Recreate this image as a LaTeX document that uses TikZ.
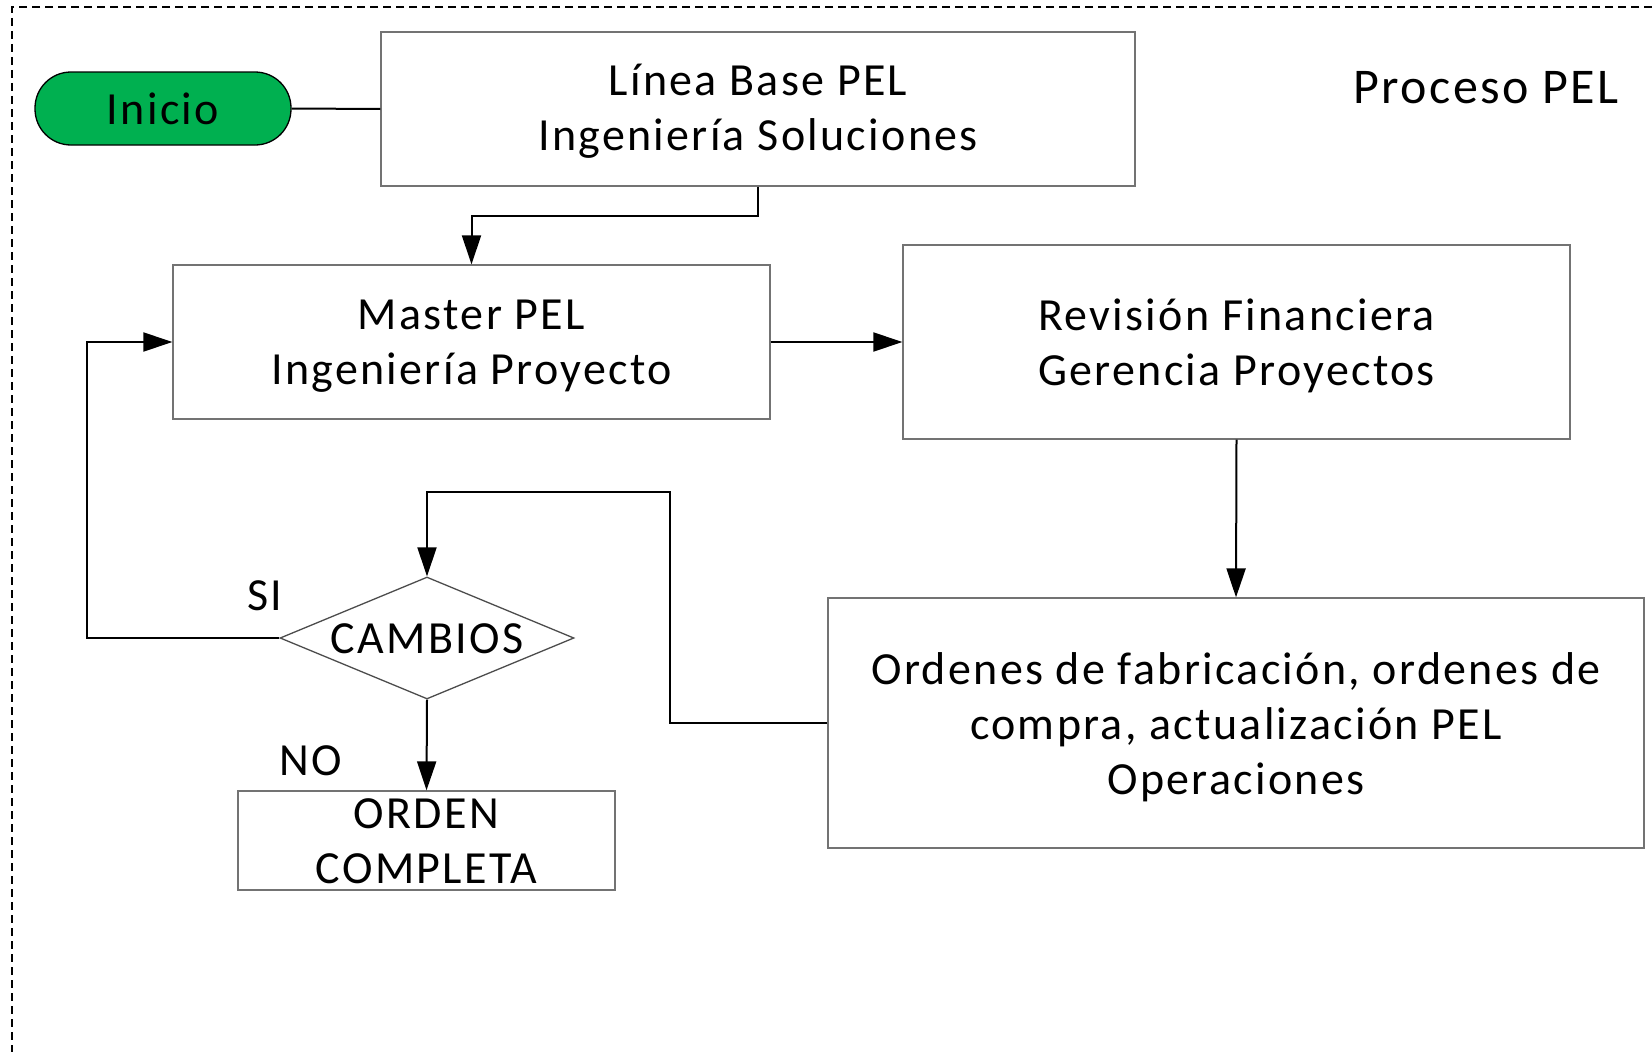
\documentclass[tikz,border=0pt]{standalone}
\usepackage{fontspec}
\setmainfont{Carlito}[LetterSpace=5]
\usetikzlibrary{shapes.geometric,arrows.meta}
\tikzset{
  box/.style={draw=black!55, line width=1.3pt, fill=white, inner sep=0pt},
  txt/.style={inner sep=0pt, align=center, font=\fontsize{46}{55}\selectfont},
  conn/.style={draw=black, line width=2pt},
  arr/.style={conn, -{Triangle[length=29pt,width=19pt]}},
  lbl/.style={inner sep=0pt, font=\fontsize{46}{55}\selectfont},
}
\begin{document}
\begin{tikzpicture}[x=1pt,y=-1pt]
\useasboundingbox (0,0) rectangle (1652,1052);
\draw[line width=2pt, dash pattern=on 8pt off 5pt] (1652,7) -- (12,7) -- (12,1052);

\node[box, draw=black, fill={rgb,255:red,0;green,176;blue,80}, rounded corners=36pt,
  minimum width=256pt, minimum height=73pt,
  label={[txt]center:Inicio}] (inicio) at (163,108.5) {};
\node[box, minimum width=754pt, minimum height=154pt,
  label={[txt,yshift=-2pt]center:{Línea Base PEL\\Ingeniería Soluciones}}] (linea) at (758,109) {};
\node[box, minimum width=597pt, minimum height=154pt,
  label={[txt,yshift=-4pt]center:{Master PEL\\Ingeniería Proyecto}}] (master) at (471.5,342) {};
\node[box, minimum width=667pt, minimum height=194pt,
  label={[txt,yshift=-4pt]center:{Revisión Financiera\\Gerencia Proyectos}}] (revision) at (1236.5,342) {};
\node[box, minimum width=816pt, minimum height=250pt,
  label={[txt,yshift=-4pt]center:{Ordenes de fabricación, ordenes de\\compra, actualización PEL\\Operaciones}}] (ordenes) at (1236,723) {};
\node[diamond, draw=black!70, line width=1.3pt, inner sep=0pt,
  minimum width=294pt, minimum height=122pt,
  label={[txt,yshift=-1pt]center:CAMBIOS}] (cambios) at (427,638) {};
\node[box, minimum width=377pt, minimum height=99pt,
  label={[txt,yshift=-1pt]center:{ORDEN\\COMPLETA}}] (orden) at (426.5,840.5) {};

\node[lbl, font=\fontsize{50}{60}\selectfont] (proceso) at (1486,88) {Proceso PEL};
\node[lbl] (si) at (265,596) {SI};
\node[lbl] (no) at (311,761) {NO};

\draw[conn] (inicio.east) -- (linea.west);
\draw[arr] (linea.south) -- (linea.south |- 0,216) -| (master.north);
\draw[arr] (master.east) -- (revision.west);
\draw[arr] (revision.south) -- (ordenes.north);
\draw[arr] (ordenes.west) -| (670,492) -| (cambios.north);
\draw[arr] (cambios.west) -| (87,342) -- (master.west);
\draw[arr] (cambios.south) -- (orden.north);
\end{tikzpicture}
\end{document}
